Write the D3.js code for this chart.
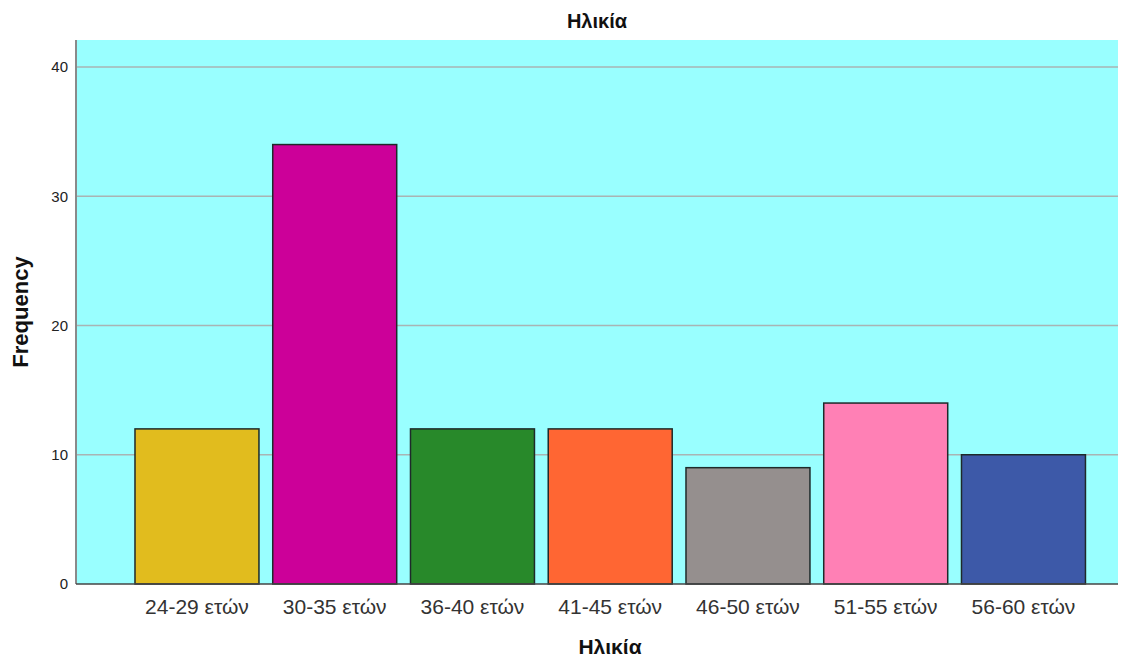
<!DOCTYPE html>
<html>
<head>
<meta charset="utf-8">
<script src="https://cdn.jsdelivr.net/npm/d3@7"></script>
<style>
  body { margin: 0; background: #fff; }
  svg { display: block; font-family: "Liberation Sans", Arial, sans-serif; }
</style>
</head>
<body>
<svg id="chart" width="1134" height="658"></svg>
<script>
// Age groups and their counts
const categories = ["24-29 ετών", "30-35 ετών", "36-40 ετών", "41-45 ετών", "46-50 ετών", "51-55 ετών", "56-60 ετών"];
const frequencies = [12, 34, 12, 12, 9, 14, 10];
const barColors = ["#E1BC1E", "#CC0099", "#28892A", "#FF6633", "#958F8E", "#FF80B5", "#3D59A8"];
const yTicks = [0, 10, 20, 30, 40];

const svg = d3.select("#chart");
const plot = { left: 76, right: 1118, top: 40, bottom: 584 };

const x = d3.scaleBand()
  .domain(categories)
  .range([128.1, 1092.35])
  .paddingInner(0.1)
  .paddingOuter(0.05);

const y = d3.scaleLinear()
  .domain([0, 42.09])
  .range([plot.bottom, plot.top]);

// Plot background
svg.append("rect")
  .attr("x", plot.left).attr("y", plot.top)
  .attr("width", plot.right - plot.left)
  .attr("height", plot.bottom - plot.top)
  .attr("fill", "#99FFFF");

// Horizontal grid lines
svg.append("g")
  .selectAll("line")
  .data(yTicks.filter(d => d > 0))
  .join("line")
  .attr("x1", plot.left).attr("x2", plot.right)
  .attr("y1", d => y(d)).attr("y2", d => y(d))
  .attr("stroke", "#A9B4B4")
  .attr("stroke-width", 1.5);

// Bars
svg.append("g")
  .selectAll("rect")
  .data(categories)
  .join("rect")
  .attr("x", d => x(d))
  .attr("y", (d, i) => y(frequencies[i]))
  .attr("width", x.bandwidth())
  .attr("height", (d, i) => y(0) - y(frequencies[i]))
  .attr("fill", (d, i) => barColors[i])
  .attr("stroke", "#1E2A2A")
  .attr("stroke-width", 1.5);

// Y axis
const yAxis = svg.append("g")
  .attr("transform", `translate(${plot.left},0)`)
  .call(d3.axisLeft(y).tickValues(yTicks).tickSize(0).tickPadding(8).tickFormat(d3.format("d")));
yAxis.select(".domain").attr("stroke", "#8A8A8A").attr("stroke-width", 2)
  .attr("d", `M0,${plot.top}V${plot.bottom}`);
yAxis.selectAll("text").attr("font-size", 15).attr("fill", "#222")
  .attr("font-family", "'Liberation Sans', Arial, sans-serif");

// X axis
const xAxis = svg.append("g")
  .attr("transform", `translate(0,${plot.bottom})`)
  .call(d3.axisBottom(x).tickSize(0).tickPadding(15));
xAxis.select(".domain").attr("stroke", "#444").attr("stroke-width", 1.5)
  .attr("d", `M${plot.left},0H${plot.right}`);
xAxis.selectAll("text").attr("font-size", 21).attr("fill", "#333")
  .attr("font-family", "'Liberation Sans', Arial, sans-serif");

// Title
svg.append("text")
  .attr("x", (plot.left + plot.right) / 2).attr("y", 28)
  .attr("text-anchor", "middle")
  .attr("font-size", 20).attr("font-weight", "bold").attr("fill", "#111")
  .text("Ηλικία");

// Axis titles
svg.append("text")
  .attr("x", 610).attr("y", 654)
  .attr("text-anchor", "middle")
  .attr("font-size", 21).attr("font-weight", "bold").attr("fill", "#111")
  .text("Ηλικία");

svg.append("text")
  .attr("transform", `translate(28,${(plot.top + plot.bottom) / 2}) rotate(-90)`)
  .attr("text-anchor", "middle")
  .attr("font-size", 22).attr("font-weight", "bold").attr("fill", "#111")
  .text("Frequency");
</script>
</body>
</html>
